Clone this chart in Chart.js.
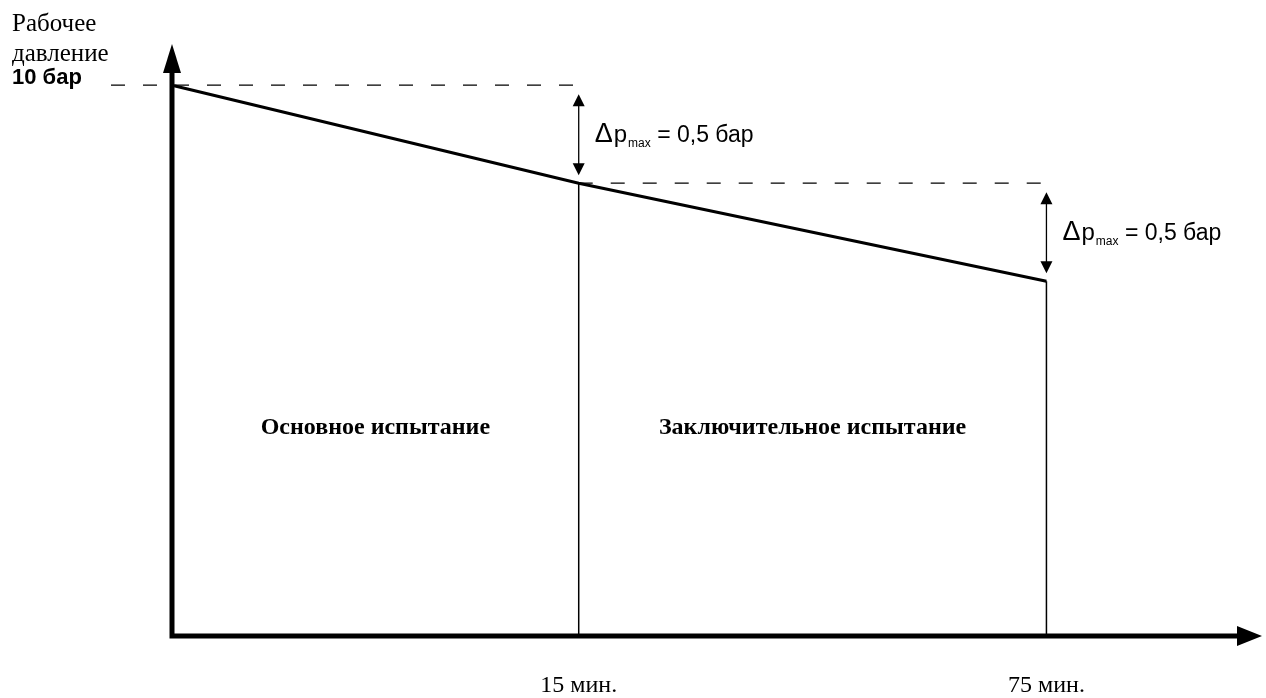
<!DOCTYPE html>
<html lang="ru">
<head>
<meta charset="utf-8">
<title>Испытание давлением</title>
<script src="https://cdn.jsdelivr.net/npm/chart.js@4.4.0/dist/chart.umd.min.js"></script>
<style>
  html, body { margin: 0; padding: 0; background: #fff; }
  #wrap { position: relative; width: 1266px; height: 698px; }
</style>
</head>
<body>
<div id="wrap"><canvas id="graph-pressure"></canvas></div>
<script>
// chart data
const timeLabels = ['15 мин.', '75 мин.'];
const stageLabels = ['Основное испытание', 'Заключительное испытание'];
// position of each mark along the time axis (the diagram is not to scale)
const timePos = [0, 1, 2.15];
const pressure = [10, 9.5, 9.0];            // бар
const dropText = ' = 0,5 бар';
const startText = ['Рабочее', 'давление', '10 бар'];

const gp = document.getElementById('graph-pressure');
const yMin = 7.19, yMax = 10.2;

const black = '#000';

function pt(i) {
    return {x: timePos[i], y: pressure[i]};
}

var datasets = [];
// pressure line
datasets.push({
    data: timePos.map(function(t, i){ return pt(i); }),
    borderColor: black, borderWidth: 3, pointRadius: 0, clip: false
});
// stage boundaries
for (var i = 1; i < timePos.length; i++) {
    datasets.push({
        data: [pt(i), {x: timePos[i], y: yMin}],
        borderColor: black, borderWidth: 1.5, pointRadius: 0, clip: false
    });
}
// dashed reference levels
datasets.push({
    data: [{x: -0.15, y: pressure[0]}, {x: timePos[1], y: pressure[0]}],
    borderColor: black, borderWidth: 1.3, borderDash: [14, 18], pointRadius: 0, clip: false
});
datasets.push({
    data: [pt(1), {x: timePos[2], y: pressure[1]}],
    borderColor: black, borderWidth: 1.3, borderDash: [14, 18], pointRadius: 0, clip: false
});

function arrowHead(ctx, x, y, dx, dy, len, half) {
    // tip at (x,y), pointing along (dx,dy)
    ctx.beginPath();
    ctx.moveTo(x, y);
    ctx.lineTo(x - dx*len - dy*half, y - dy*len + dx*half);
    ctx.lineTo(x - dx*len + dy*half, y - dy*len - dx*half);
    ctx.closePath();
    ctx.fill();
}

function dropLabel(ctx, px, yA, yB) {
    var top = yA + 9, bot = yB - 8;
    ctx.lineWidth = 1.3;
    ctx.beginPath();
    ctx.moveTo(px, top + 10);
    ctx.lineTo(px, bot - 10);
    ctx.stroke();
    arrowHead(ctx, px, top, 0, -1, 12, 6);
    arrowHead(ctx, px, bot, 0, 1, 12, 6);

    var base = (top + bot) / 2 + 7;
    var tx = px + 16;
    ctx.textAlign = 'left';
    ctx.textBaseline = 'alphabetic';
    ctx.font = '27px "Liberation Sans"';
    ctx.fillText('Δ', tx, base);
    tx += ctx.measureText('Δ').width + 1;
    ctx.font = '24px "Liberation Sans"';
    ctx.fillText('p', tx, base);
    tx += ctx.measureText('p').width + 1;
    ctx.font = '12px "Liberation Sans"';
    ctx.fillText('max', tx, base + 5);
    tx += ctx.measureText('max').width;
    ctx.font = '23px "Liberation Sans"';
    ctx.fillText(dropText, tx, base);
}

const diagramPlugin = {
    id: 'diagram',
    afterDraw: function(chart) {
        var ctx = chart.ctx;
        var x = chart.scales.x, y = chart.scales.y;
        var area = chart.chartArea;
        var x0 = x.getPixelForValue(0);
        var yb = y.getPixelForValue(yMin);
        ctx.save();
        ctx.fillStyle = black;
        ctx.strokeStyle = black;

        // axes with arrows
        ctx.lineWidth = 5;
        ctx.lineJoin = 'miter';
        ctx.beginPath();
        ctx.moveTo(x0, area.top + 26);
        ctx.lineTo(x0, yb);
        ctx.lineTo(area.right - 24, yb);
        ctx.stroke();
        arrowHead(ctx, x0, area.top - 2, 0, -1, 29, 9);
        arrowHead(ctx, area.right, yb, 1, 0, 25, 10);

        // pressure drop markers
        dropLabel(ctx, x.getPixelForValue(timePos[1]), y.getPixelForValue(pressure[0]), y.getPixelForValue(pressure[1]));
        dropLabel(ctx, x.getPixelForValue(timePos[2]), y.getPixelForValue(pressure[1]), y.getPixelForValue(pressure[2]));

        // start pressure label
        ctx.textAlign = 'left';
        ctx.textBaseline = 'alphabetic';
        var yTop = y.getPixelForValue(pressure[0]);
        ctx.font = '25px "Liberation Serif"';
        ctx.fillText(startText[0], 12, yTop - 54);
        ctx.fillText(startText[1], 12, yTop - 24);
        ctx.font = 'bold 22px "Liberation Sans"';
        ctx.fillText(startText[2], 12, yTop - 1);

        // time labels
        ctx.textAlign = 'center';
        ctx.font = '24px "Liberation Serif"';
        for (var i = 0; i < timeLabels.length; i++) {
            ctx.fillText(timeLabels[i], x.getPixelForValue(timePos[i + 1]), yb + 56);
        }

        // stage names
        ctx.font = 'bold 24px "Liberation Serif"';
        for (var j = 0; j < stageLabels.length; j++) {
            var mid = (x.getPixelForValue(timePos[j]) + x.getPixelForValue(timePos[j + 1])) / 2;
            ctx.fillText(stageLabels[j], mid, 434);
        }
        ctx.restore();
    }
};

var ch_gp = new Chart(gp, {
    type: 'line',
    data: {datasets: datasets},
    options: {
        responsive: true,
        maintainAspectRatio: false,
        animation: false,
        layout: {padding: {left: 172, right: 4, top: 46, bottom: 62}},
        plugins: {legend: {display: false}, tooltip: {enabled: false}},
        elements: {line: {tension: 0}},
        scales: {
            x: {type: 'linear', min: 0, max: 2.68, display: false},
            y: {min: yMin, max: yMax, display: false}
        }
    },
    plugins: [diagramPlugin]
});
</script>
</body>
</html>
